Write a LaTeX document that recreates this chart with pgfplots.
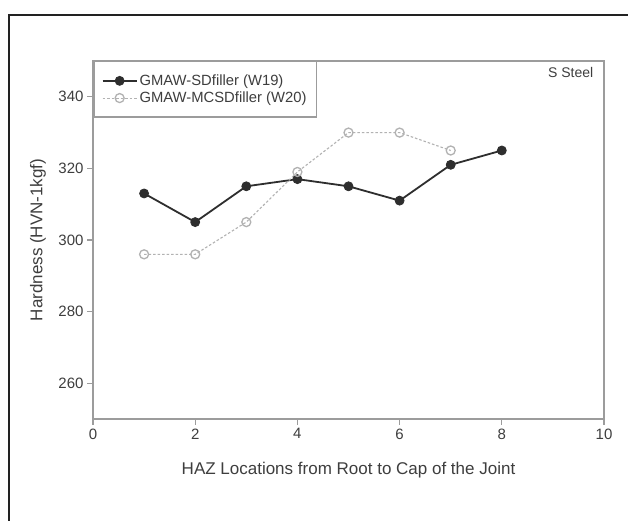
\documentclass[border=0pt]{standalone}
\usepackage{fontspec}
\setmainfont{Liberation Sans}
\usepackage{pgfplots}
\pgfplotsset{compat=1.18}

\definecolor{txt}{HTML}{3E3E3E}
\definecolor{axgray}{HTML}{9C9C9C}
\definecolor{darkser}{HTML}{2E2E2E}
\definecolor{lightser}{HTML}{B2B2B2}
\definecolor{framecol}{HTML}{222222}

% Hardness of the HAZ, location 1 (root) to 8 (cap)
\pgfplotstableread{
loc hv
1 313
2 305
3 315
4 317
5 315
6 311
7 321
8 325
}\wnineteen
\pgfplotstableread{
loc hv
1 296
2 296
3 305
4 319
5 330
6 330
7 325
}\wtwenty

\begin{document}
\begin{tikzpicture}[x=1pt,y=1pt]
\useasboundingbox (0,0) rectangle (628,521);
\fill[white] (0,0) rectangle (628,521);
\draw[framecol, line width=2.2pt] (9,0) -- (9,506) -- (628,506);
\begin{axis}[
  at={(93pt,102pt)}, anchor=south west,
  scale only axis, width=511pt, height=358pt,
  xmin=0, xmax=10, ymin=250, ymax=350,
  xtick={0,2,...,10}, ytick={260,280,...,340},
  tick pos=left, tick align=outside,
  major tick length=6pt,
  axis line style={axgray, line width=1.8pt},
  tick style={axgray, line width=1.2pt},
  ticklabel style={font=\fontsize{15}{17}\selectfont, text=txt},
  /pgf/number format/assume math mode=true,
  xlabel={HAZ Locations from Root to Cap of the Joint},
  ylabel={Hardness (HVN-1kgf)},
  label style={font=\fontsize{17}{20}\selectfont, text=txt},
  xlabel style={at={(axis description cs:0.5,-0.1425)}, anchor=center},
  ylabel style={at={(axis description cs:-0.1076,0.5)}, anchor=center},
  legend style={at={(axis description cs:0,1)}, anchor=north west,
    draw=axgray, line width=1.5pt, fill=white,
    font=\fontsize{14.8}{18}\selectfont, text=txt,
    inner xsep=8pt, inner ysep=11pt, row sep=1pt},
  legend cell align=left,
  legend image code/.code={%
    \draw[mark repeat=2,mark phase=2,#1]
      plot coordinates {(0pt,0pt) (17pt,0pt) (34pt,0pt)};},
]
\addplot[darkser, line width=1.8pt, mark=*, mark size=4.5pt,
  mark options={solid, fill=darkser, line width=0.8pt}]
  table[x=loc, y=hv] {\wnineteen};
\addlegendentry{GMAW-SDfiller (W19)}
\addplot[lightser, line width=1.1pt, dash pattern=on 2.5pt off 2pt,
  mark=o, mark size=4.5pt,
  mark options={solid, fill=white, line width=1.3pt}]
  table[x=loc, y=hv] {\wtwenty};
\addlegendentry{GMAW-MCSDfiller (W20)}
\node[anchor=east, text=txt, font=\fontsize{14}{16}\selectfont]
  at (rel axis cs:0.986,0.969) {S Steel};
\end{axis}
\end{tikzpicture}
\end{document}
